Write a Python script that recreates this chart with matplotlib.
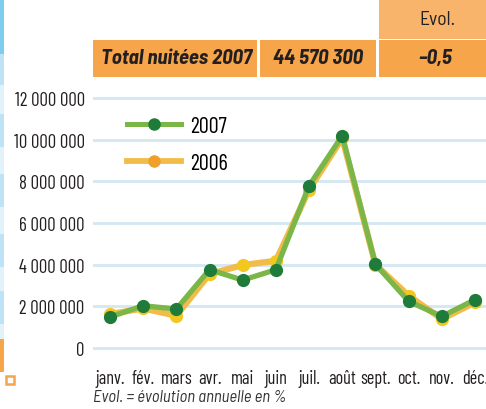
import matplotlib
matplotlib.use("Agg")
import matplotlib.pyplot as plt
from matplotlib.patches import Rectangle
from matplotlib.lines import Line2D
from matplotlib.ticker import FuncFormatter

plt.rcParams['font.family'] = ['Barlow Condensed', 'DejaVu Sans']
SEMI = ['Barlow Semi Condensed', 'DejaVu Sans']

# Données
mois = ["janv.", "fév.", "mars", "avr.", "mai", "juin", "juil.", "août", "sept.", "oct.", "nov.", "déc."]
nuitees_2007 = [1490000, 2030000, 1870000, 3760000, 3260000, 3760000,
                7790000, 10190000, 4020000, 2240000, 1520000, 2320000]
nuitees_2006 = [1630000, 1900000, 1550000, 3550000, 3980000, 4190000,
                7600000, 10070000, 4000000, 2510000, 1390000, 2190000]
y_ticks = [0, 2000000, 4000000, 6000000, 8000000, 10000000, 12000000]
total_label = "Total nuitées 2007"
total_value = "44 570 300"
evol_value = "–0,5"

W, H = 486, 410
fig = plt.figure(figsize=(W / 100, H / 100), dpi=100)


def px(x, y, w, h):
    # coordonnées pixels (origine en haut à gauche) -> fraction de figure
    return (x / W, 1 - (y + h) / H, w / W, h / H)


# bande latérale
blocs = [(0, 55, "#7fcdee"), (55, 31, "#bfe3f6"), (86, 29, "#e2f2fb"), (115, 33, "#bfe3f6"),
         (148, 27, "#e2f2fb"), (175, 33, "#bfe3f6"), (208, 27, "#e2f2fb"), (235, 33, "#bfe3f6"),
         (268, 24, "#e2f2fb"), (292, 33, "#bfe3f6"), (325, 15, "#e2f2fb"), (340, 33, "#f7a54a")]
for y0, h, c in blocs:
    x, y, w, hh = px(0, y0, 4, h)
    fig.add_artist(Rectangle((x, y), w, hh, transform=fig.transFigure, color=c, lw=0))
x, y, w, hh = px(6, 377, 8, 8)
fig.add_artist(Rectangle((x, y), w, hh, transform=fig.transFigure, facecolor="white",
                         edgecolor="#f7a54a", lw=1.8))

# tableau en tête
cellules = [(379, 0, 107, 40, "#f9b46b"), (93, 41, 164, 37, "#f7a54a"),
            (260, 41, 116, 37, "#f7a54a"), (379, 41, 107, 37, "#f7a54a")]
for cx, cy, cw, ch, c in cellules:
    x, y, w, hh = px(cx, cy, cw, ch)
    fig.add_artist(Rectangle((x, y), w, hh, transform=fig.transFigure, color=c, lw=0))
fig.text(437 / W, 1 - 20 / H, "Evol.", ha="center", va="center", fontsize=14,
         family=SEMI, color="#231f20")
fig.text(176 / W, 1 - 59 / H, total_label, ha="center", va="center", fontsize=15,
         family=SEMI, fontweight="bold", fontstyle="italic", color="#231f20")
fig.text(318 / W, 1 - 59 / H, total_value, ha="center", va="center", fontsize=15,
         family=SEMI, fontweight="bold", fontstyle="italic", color="#231f20")
fig.text(435 / W, 1 - 59 / H, evol_value, ha="center", va="center", fontsize=15,
         family=SEMI, fontweight="bold", fontstyle="italic", color="#231f20")

# graphique
ax = fig.add_axes(px(93, 95, 393, 258))
x = list(range(len(mois)))
ax.plot(x, nuitees_2006, color="#f2bc4a", lw=4.5, marker="o", ms=8.5,
        mfc="#f2c81e", mec="#f2c81e", zorder=3, clip_on=False)
ax.plot(x, nuitees_2007, color="#7ab648", lw=3.8, marker="o", ms=8.5,
        mfc="#1e7b3a", mec="#1e7b3a", zorder=4, clip_on=False)

ax.set_xlim(-0.51, 11.33)
ax.set_ylim(-190000, 12190000)
ax.set_yticks(y_ticks)
ax.yaxis.set_major_formatter(FuncFormatter(lambda v, p: "{:,}".format(int(v)).replace(",", " ")))
ax.set_xticks(x)
ax.set_xticklabels(mois)
ax.grid(axis="y", color="#d3e8f2", lw=2)
ax.set_axisbelow(True)
for s in ax.spines.values():
    s.set_visible(False)
ax.tick_params(length=0, labelsize=13.5, colors="#231f20")
ax.tick_params(axis="x", labelsize=13.2)
ax.tick_params(axis="y", pad=6)
ax.tick_params(axis="x", pad=12)

handles = [Line2D([], [], color="#7ab648", lw=3.6, marker="o", ms=8, mfc="#1e7b3a", mec="#1e7b3a"),
           Line2D([], [], color="#f2bc4a", lw=4.2, marker="o", ms=8, mfc="#f0a02a", mec="#f0a02a")]
ax.legend(handles, ["2007", "2006"], loc="upper left", bbox_to_anchor=(0.0865, 0.914),
          frameon=False, fontsize=16, handlelength=2.45, handletextpad=0.4, labelspacing=0.72,
          borderpad=0, borderaxespad=0)

fig.text(93 / W, 1 - 398 / H, "Evol. = évolution annuelle en %", ha="left", va="center",
         fontsize=12, family=SEMI, fontstyle="italic", color="#333333")

fig.savefig("out.png", dpi=100)
